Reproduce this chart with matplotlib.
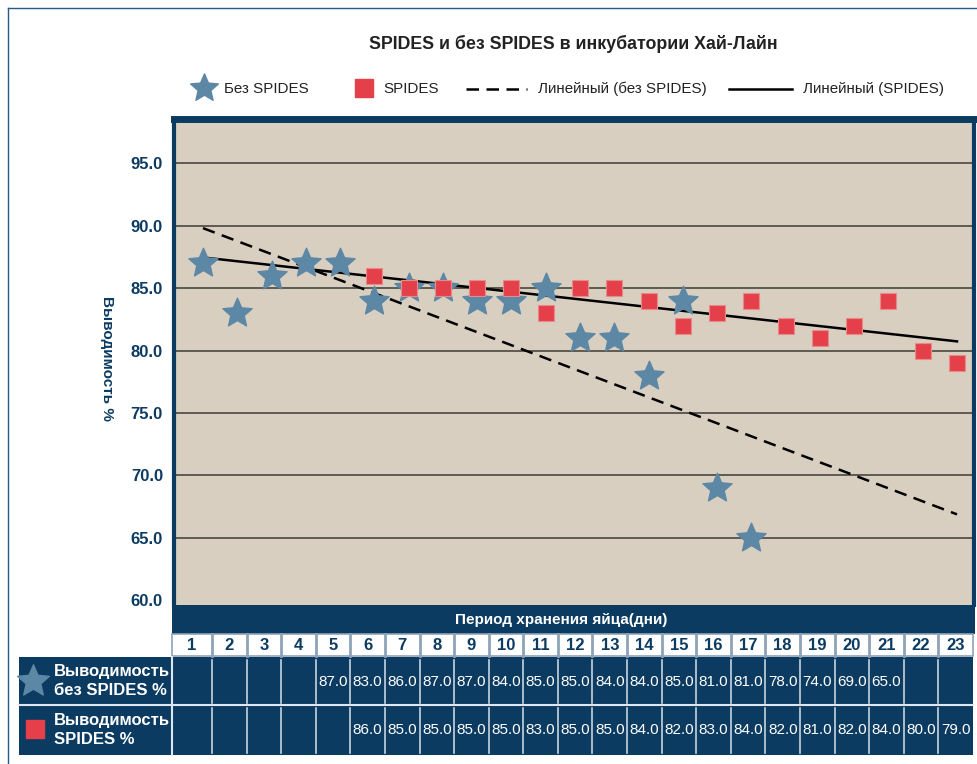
import numpy as np
import matplotlib
matplotlib.use('Agg')
import matplotlib.pyplot as plt
from matplotlib import font_manager
from matplotlib.patches import Rectangle
from matplotlib.path import Path

# --- data ---
days = list(range(1, 24))
star_days = list(range(1, 18))
no_spides_plot = [87, 83, 86, 87, 87, 84, 85, 85, 84, 84, 85, 81, 81, 78, 84, 69, 65]
spides_days = list(range(6, 24))
spides = [86, 85, 85, 85, 85, 83, 85, 85, 84, 82, 83, 84, 82, 81, 82, 84, 80, 79]
no_spides_table = [None] * 4 + [87, 83, 86, 87, 87, 84, 85, 85, 84, 84, 85, 81, 81,
                                78, 74, 69, 65] + [None] * 2
spides_table = [None] * 5 + spides
yticks = [60, 65, 70, 75, 80, 85, 90, 95]

title = 'SPIDES и без SPIDES в инкубатории Хай-Лайн'
xlabel = 'Период хранения яйца(дни)'
ylabel = 'Выводимость %'
leg_labels = ['Без SPIDES', 'SPIDES', 'Линейный (без SPIDES)', 'Линейный (SPIDES)']
row_labels = ['Выводимость\nбез SPIDES %', 'Выводимость\nSPIDES %']

# --- style ---
NAVY = '#0c3b62'
STAR = '#5c87a5'
RED = '#e5404a'
BG = '#d8cfc0'
GRID = '#5f5a52'

names = {f.name for f in font_manager.fontManager.ttflist}
NARROW = 'Liberation Sans Narrow' if 'Liberation Sans Narrow' in names else 'Liberation Sans'
plt.rcParams['font.family'] = ['Liberation Sans', 'DejaVu Sans']

# fatter five point star like the one in the original
ang = np.pi / 2 + np.arange(10) * np.pi / 5
rad = np.where(np.arange(10) % 2 == 0, 1.0, 0.46)
star_pts = np.column_stack([rad * np.cos(ang), rad * np.sin(ang)])
STAR_MK = Path(np.vstack([star_pts, star_pts[:1]]), closed=True)

W, H = 977, 764
fig = plt.figure(figsize=(W / 100, H / 100), dpi=100)

# overlay in pixel coordinates for frame, legend and table
ov = fig.add_axes([0, 0, 1, 1])
ov.set_xlim(0, W)
ov.set_ylim(H, 0)
ov.axis('off')

# --- main plot ---
L, R, T, B = 174, 974, 119, 605
ax = fig.add_axes([L / W, 1 - B / H, (R - L) / W, (B - T) / H])
ax.set_facecolor(BG)
ax.set_xlim(0.154, 23.496)
ax.set_ylim(59.63, 98.54)
ax.set_yticks(yticks)
ax.set_yticklabels(['%.1f' % v for v in yticks], fontfamily=NARROW,
                   fontweight='bold', fontsize=12, color=NAVY)
ax.tick_params(axis='y', length=0, pad=8)
ax.set_xticks([])
for v in yticks[1:]:
    ax.axhline(v, color=GRID, lw=1.4, zorder=1)
ax.spines['bottom'].set_visible(False)
ax.spines['left'].set_color(NAVY)
ax.spines['left'].set_linewidth(3)
ax.spines['right'].set_color(NAVY)
ax.spines['right'].set_linewidth(3)
ax.spines['top'].set_color(NAVY)
ax.spines['top'].set_linewidth(5)

# linear trend lines
xs = np.array([1, 23])
k1, b1 = np.polyfit(star_days, [v for v in no_spides_table if v is not None], 1)
k2, b2 = np.polyfit(spides_days, spides, 1)
ax.plot(xs, k1 * xs + b1, color='black', lw=1.8, ls=(0, (5, 3)), zorder=3)
ax.plot(xs, k2 * xs + b2, color='black', lw=1.8, zorder=3)

ax.plot(star_days, no_spides_plot, ls='none', marker=STAR_MK, ms=22, color=STAR,
        markeredgecolor=STAR, zorder=4)
ax.plot(spides_days, spides, ls='none', marker='s', ms=12, color=RED,
        markeredgecolor='#e98a8a', markeredgewidth=0.8, zorder=5)

# --- title, axis label, legend ---
ov.text(573, 44, title, ha='center', va='center', fontsize=12.8,
        fontweight='bold', color='#222222')
ov.text(107, 358, ylabel, ha='center', va='center', rotation=270,
        fontsize=11, fontweight='bold', color=NAVY)

ly = 89
ov.plot([204], [ly - 1], marker=STAR_MK, ms=21, color=STAR, ls='none')
ov.text(224, ly, leg_labels[0], va='center', fontsize=10.9, color='#222222')
ov.plot([364], [ly - 1], marker='s', ms=12.5, color=RED, ls='none')
ov.text(383, ly, leg_labels[1], va='center', fontsize=10.9, color='#222222')
ov.plot([466, 527], [ly, ly], color='black', lw=1.8, ls=(0, (5, 3)))
ov.text(538, ly, leg_labels[2], va='center', fontsize=10.9, color='#222222')
ov.plot([729, 792], [ly, ly], color='black', lw=1.8)
ov.text(803, ly, leg_labels[3], va='center', fontsize=10.9, color='#222222')

# outer frame
ov.plot([8, 8], [8, H], color='#2a5a85', lw=1)
ov.plot([8, W], [8, 8], color='#2a5a85', lw=1)

# --- data table under the chart ---
edges = [172] + [212 + 34.59 * j for j in range(23)]
ov.add_patch(Rectangle((172, 605), 975 - 172, 29, color=NAVY, lw=0))
ov.text(561, 620, xlabel, ha='center', va='center', fontsize=11,
        fontweight='bold', color='white')

ov.add_patch(Rectangle((172, 634), 973 - 172, 22, facecolor='white',
                       edgecolor='#8da3b8', lw=1.2))
ov.add_patch(Rectangle((19, 657), 973 - 19, 98, color=NAVY, lw=0))
ov.plot([19, 973], [705, 705], color='#dfe6ee', lw=1.5)

for e in edges[1:-1]:
    ov.plot([e, e], [634, 656], color='#8da3b8', lw=2)
    ov.plot([e, e], [660, 703], color='#c8d3de', lw=1.2)
    ov.plot([e, e], [708, 753], color='#c8d3de', lw=1.2)
ov.plot([172, 172], [657, 755], color='#dfe6ee', lw=1.5)

for i, d in enumerate(days):
    cx = (edges[i] + edges[i + 1]) / 2
    ov.text(cx, 646, str(d), ha='center', va='center', fontfamily=NARROW,
            fontsize=12, fontweight='bold', color=NAVY)
    if no_spides_table[i] is not None:
        ov.text(cx, 682, '%.1f' % no_spides_table[i], ha='center', va='center',
                fontfamily=NARROW, fontsize=11, color='white')
    if spides_table[i] is not None:
        ov.text(cx, 730, '%.1f' % spides_table[i], ha='center', va='center',
                fontfamily=NARROW, fontsize=11, color='white')

ov.plot([33], [681], marker=STAR_MK, ms=24, color=STAR, ls='none')
ov.text(54, 681, row_labels[0], va='center', fontsize=12, fontweight='bold',
        color='white', linespacing=1.35)
ov.plot([35], [729], marker='s', ms=13, color=RED, ls='none')
ov.text(54, 730, row_labels[1], va='center', fontsize=12, fontweight='bold',
        color='white', linespacing=1.35)

fig.savefig('out.png', dpi=100)
